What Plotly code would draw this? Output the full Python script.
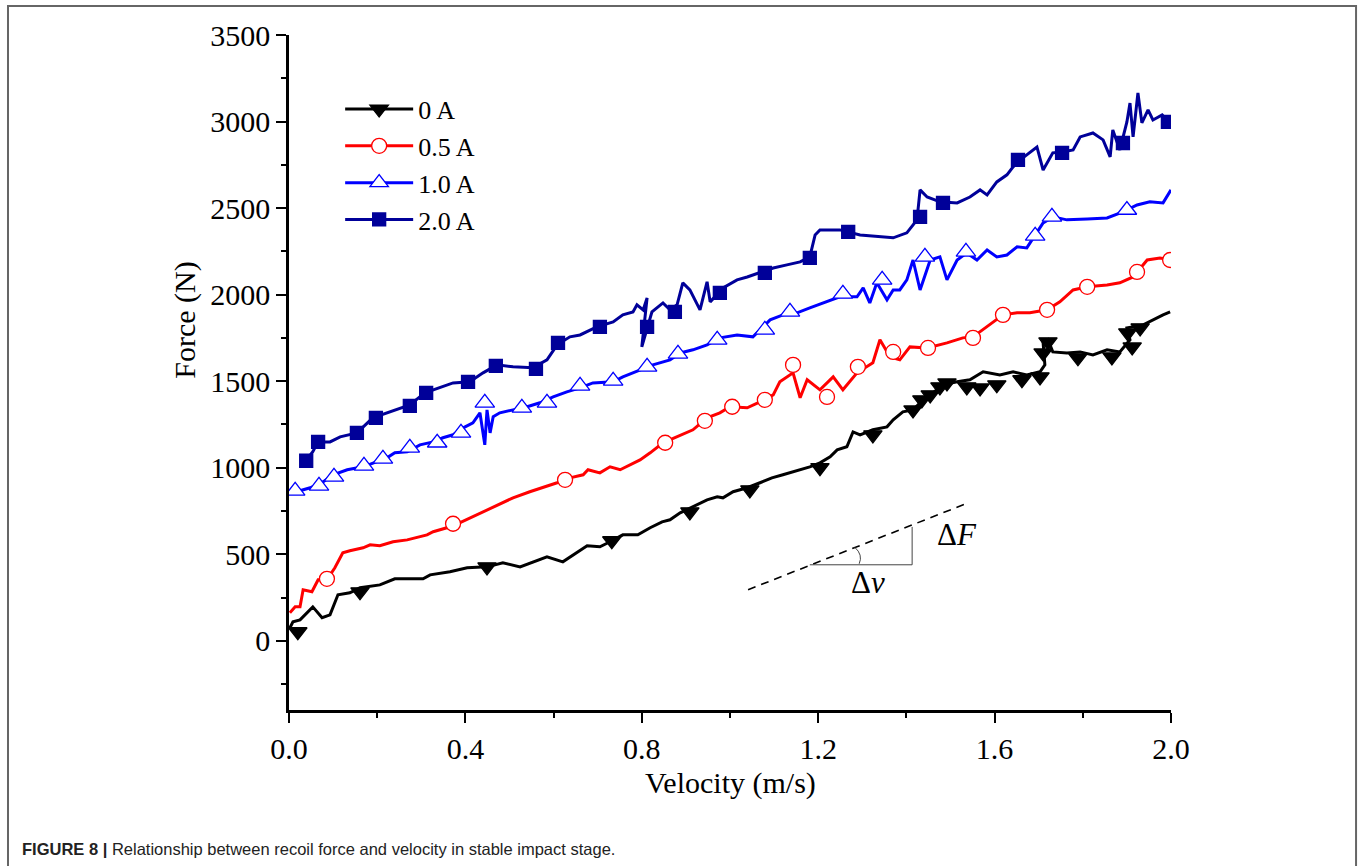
import plotly.graph_objects as go

# ---------------- data (velocity m/s, force N) ----------------
v_0A = [0.002, 0.009, 0.025, 0.054, 0.075, 0.093, 0.111, 0.138, 0.161, 0.206, 0.240, 0.304, 0.320, 0.365,
        0.404, 0.449, 0.485, 0.524, 0.585, 0.621, 0.676, 0.705, 0.728, 0.757, 0.791, 0.819, 0.846, 0.864,
        0.887, 0.916, 0.948, 0.971, 0.984, 1.007, 1.039, 1.068, 1.095, 1.120, 1.152, 1.181, 1.204, 1.227,
        1.243, 1.265, 1.279, 1.295, 1.324, 1.356, 1.370, 1.392, 1.415, 1.438, 1.460, 1.483, 1.515, 1.544,
        1.574, 1.612, 1.642, 1.673, 1.703, 1.714, 1.710, 1.721, 1.732, 1.764, 1.794, 1.823, 1.855, 1.884,
        1.907, 1.900, 1.937, 1.959, 1.982, 1.998]
F_0A = [75, 110, 121, 196, 133, 150, 266, 277, 306, 323, 358, 358, 381, 399,
        422, 427, 451, 427, 485, 456, 549, 543, 572, 612, 612, 653, 687, 699,
        739, 774, 814, 832, 826, 861, 884, 913, 941, 959, 982, 1005, 1028, 1063,
        1103, 1121, 1207, 1190, 1219, 1236, 1277, 1323, 1334, 1392, 1432, 1479, 1496, 1508,
        1554, 1536, 1554, 1536, 1554, 1594, 1721, 1739, 1669, 1663, 1669, 1652, 1681, 1669,
        1739, 1808, 1825, 1854, 1883, 1900]
mv_0A = [0.020, 0.161, 0.449, 0.732, 0.909, 1.045, 1.204, 1.324, 1.415, 1.435, 1.454, 1.476, 1.492,
         1.537, 1.567, 1.605, 1.662, 1.703, 1.721, 1.710, 1.789, 1.866, 1.902, 1.912, 1.930]
mF_0A = [52, 283, 427, 578, 745, 872, 1000, 1190, 1334, 1392, 1421, 1467, 1490,
         1467, 1461, 1479, 1508, 1525, 1727, 1663, 1635, 1640, 1779, 1698, 1808]

v_05A = [0.002, 0.014, 0.025, 0.032, 0.052, 0.066, 0.086, 0.104, 0.122, 0.138, 0.168, 0.184, 0.206,
         0.236, 0.268, 0.297, 0.313, 0.327, 0.358, 0.388, 0.417, 0.440, 0.472, 0.508, 0.546, 0.576,
         0.608, 0.637, 0.667, 0.678, 0.705, 0.728, 0.751, 0.796, 0.819, 0.848, 0.880, 0.916, 0.948,
         0.977, 1.000, 1.039, 1.068, 1.098, 1.113, 1.143, 1.159, 1.175, 1.204, 1.234, 1.256, 1.288,
         1.324, 1.340, 1.363, 1.385, 1.408, 1.447, 1.492, 1.528, 1.551, 1.583, 1.619, 1.651, 1.680,
         1.719, 1.748, 1.778, 1.810, 1.855, 1.884, 1.914, 1.946, 1.975, 2.000]
F_05A = [162, 196, 196, 295, 283, 352, 352, 422, 508, 520, 537, 554, 549,
         572, 583, 601, 612, 630, 653, 682, 716, 745, 785, 826, 861, 884,
         913, 941, 959, 988, 970, 1005, 988, 1045, 1086, 1144, 1178, 1219, 1288,
         1317, 1352, 1346, 1380, 1421, 1496, 1548, 1404, 1508, 1450, 1525, 1450, 1548,
         1606, 1739, 1640, 1623, 1698, 1692, 1721, 1750, 1756, 1814, 1883, 1895, 1895,
         1912, 1958, 2027, 2045, 2056, 2068, 2102, 2200, 2212, 2200]
mv_05A = [0.086, 0.372, 0.626, 0.853, 0.943, 1.005, 1.079, 1.143, 1.220, 1.290, 1.370, 1.449,
          1.551, 1.619, 1.719, 1.810, 1.923, 1.998]
mF_05A = [358, 676, 930, 1144, 1271, 1352, 1392, 1594, 1409, 1583, 1669, 1692,
          1750, 1883, 1912, 2045, 2131, 2200]

v_10A = [0.002, 0.009, 0.048, 0.077, 0.100, 0.132, 0.168, 0.200, 0.222, 0.240, 0.268, 0.297, 0.327,
         0.349, 0.372, 0.395, 0.417, 0.433, 0.444, 0.449, 0.456, 0.463, 0.478, 0.508, 0.540, 0.569,
         0.599, 0.630, 0.660, 0.689, 0.735, 0.757, 0.796, 0.825, 0.864, 0.887, 0.916, 0.948, 0.977,
         1.016, 1.052, 1.075, 1.091, 1.120, 1.152, 1.181, 1.220, 1.249, 1.288, 1.302, 1.317, 1.333,
         1.356, 1.370, 1.385, 1.401, 1.415, 1.431, 1.454, 1.476, 1.492, 1.515, 1.537, 1.560, 1.583,
         1.605, 1.628, 1.651, 1.673, 1.696, 1.710, 1.732, 1.764, 1.810, 1.855, 1.891, 1.923, 1.952,
         1.982, 2.000]
F_10A = [872, 855, 884, 918, 959, 988, 1005, 1034, 1057, 1086, 1092, 1132, 1149,
         1173, 1190, 1230, 1259, 1317, 1132, 1334, 1201, 1294, 1317, 1334, 1352, 1375,
         1409, 1438, 1461, 1490, 1496, 1525, 1565, 1594, 1623, 1663, 1681, 1710, 1750,
         1767, 1756, 1814, 1854, 1883, 1895, 1923, 1958, 1987, 1987, 2039, 1952, 2068,
         1970, 2027, 2027, 2085, 2200, 2027, 2200, 2218, 2085, 2200, 2241, 2200, 2258,
         2218, 2229, 2276, 2270, 2357, 2414, 2449, 2432, 2437, 2443, 2478, 2518, 2536,
         2530, 2605]
mv_10A = [0.014, 0.068, 0.102, 0.170, 0.213, 0.274, 0.336, 0.390, 0.444, 0.528, 0.585, 0.660, 0.735,
          0.812, 0.882, 0.971, 1.079, 1.136, 1.256, 1.345, 1.442, 1.535, 1.692, 1.730, 1.900]
mF_10A = [866, 895, 947, 1011, 1051, 1115, 1144, 1201, 1375, 1346, 1375, 1473, 1502,
          1583, 1658, 1739, 1796, 1900, 2004, 2085, 2218, 2247, 2339, 2449, 2489]

v_20A = [0.036, 0.054, 0.066, 0.093, 0.116, 0.154, 0.190, 0.229, 0.274, 0.308, 0.342, 0.372, 0.410,
         0.440, 0.472, 0.508, 0.553, 0.585, 0.608, 0.637, 0.660, 0.698, 0.735, 0.757, 0.780, 0.789,
         0.803, 0.812, 0.800, 0.823, 0.848, 0.864, 0.880, 0.893, 0.909, 0.932, 0.948, 0.955, 0.984,
         1.016, 1.039, 1.068, 1.098, 1.129, 1.159, 1.181, 1.193, 1.204, 1.249, 1.295, 1.340, 1.370,
         1.401, 1.424, 1.431, 1.447, 1.476, 1.515, 1.544, 1.567, 1.583, 1.605, 1.628, 1.642, 1.664,
         1.696, 1.710, 1.732, 1.753, 1.778, 1.794, 1.823, 1.846, 1.862, 1.868, 1.884, 1.900, 1.907,
         1.914, 1.925, 1.934, 1.948, 1.959, 1.980, 1.991, 1.998]
F_20A = [1034, 1092, 1149, 1149, 1178, 1201, 1288, 1323, 1363, 1432, 1461, 1490, 1496,
         1548, 1594, 1583, 1577, 1623, 1710, 1756, 1767, 1814, 1842, 1883, 1900, 1941,
         1912, 1981, 1698, 1900, 1952, 1912, 1941, 2068, 2027, 1912, 2074, 1958, 2039,
         2085, 2102, 2126, 2154, 2172, 2189, 2218, 2345, 2374, 2374, 2345, 2333, 2328,
         2357, 2432, 2605, 2564, 2536, 2530, 2564, 2605, 2576, 2651, 2692, 2738, 2790,
         2853, 2720, 2819, 2824, 2836, 2911, 2934, 2894, 2796, 2951, 2836, 2998, 3107,
         2911, 3165, 2992, 3067, 3009, 3038, 3009, 2969]
mv_20A = [0.039, 0.066, 0.154, 0.197, 0.274, 0.311, 0.406, 0.469, 0.560, 0.610, 0.705, 0.812, 0.875,
          0.977, 1.079, 1.181, 1.268, 1.431, 1.483, 1.653, 1.753, 1.891, 1.993]
mF_20A = [1040, 1149, 1201, 1288, 1357, 1432, 1496, 1588, 1571, 1721, 1814, 1814, 1900,
          2010, 2126, 2212, 2362, 2449, 2530, 2778, 2819, 2876, 2998]

# slope sketch (ΔF / Δv)
slope_v = [1.041, 1.540]
slope_F = [295, 797]
tri_v = [1.181, 1.413]
tri_F = [439, 658]

series = [
    ("0 A", v_0A, F_0A, mv_0A, mF_0A, "#000000", "triangle-down", 16, "#000000"),
    ("0.5 A", v_05A, F_05A, mv_05A, mF_05A, "#FF0000", "circle", 15, "#FFFFFF"),
    ("1.0 A", v_10A, F_10A, mv_10A, mF_10A, "#0000FF", "triangle-up", 17, "#FFFFFF"),
    ("2.0 A", v_20A, F_20A, mv_20A, mF_20A, "#000099", "square", 13, "#000099"),
]

SERIF = "Liberation Serif, Times New Roman, serif"
LW = 3.0

fig = go.Figure()
for name, xv, yv, mx, my, col, sym, size, fill in series:
    fig.add_trace(go.Scatter(x=xv, y=yv, mode="lines", line=dict(color=col, width=LW),
                             showlegend=False, hoverinfo="skip"))
    fig.add_trace(go.Scatter(x=mx, y=my, mode="markers", showlegend=False,
                             marker=dict(symbol=sym, size=size, color=fill,
                                         line=dict(color=col, width=1.3))))
for i, (name, xv, yv, mx, my, col, sym, size, fill) in enumerate(series):
    fig.add_trace(go.Scatter(x=[None], y=[None], mode="lines+markers", name=name,
                             legendgroup=f"g{i}",
                             line=dict(color=col, width=LW),
                             marker=dict(symbol=sym, size=size, color=fill,
                                         line=dict(color=col, width=1.3))))

# slope annotation
fig.add_trace(go.Scatter(x=slope_v, y=slope_F, mode="lines", showlegend=False,
                         line=dict(color="black", width=1.6, dash="8px,6px"), hoverinfo="skip"))
fig.add_shape(type="line", xref="x", yref="y", x0=tri_v[0], y0=tri_F[0], x1=tri_v[1], y1=tri_F[0],
              line=dict(color="#444", width=1))
fig.add_shape(type="line", xref="x", yref="y", x0=tri_v[1], y0=tri_F[0], x1=tri_v[1], y1=tri_F[1],
              line=dict(color="#444", width=1))
fig.add_shape(type="path", xref="x", yref="y", path="M 1.283,540 Q 1.302,497 1.293,445",
              line=dict(color="#444", width=1))
fig.add_annotation(x=1.514, y=612, xref="x", yref="y", text="Δ<i>F</i>", showarrow=False,
                   font=dict(family=SERIF, size=31, color="black"))
fig.add_annotation(x=1.313, y=335, xref="x", yref="y", text="Δ<i>v</i>", showarrow=False,
                   font=dict(family=SERIF, size=31, color="black"))

# axis titles
fig.add_annotation(x=-0.118, y=0.578, xref="paper", yref="paper", xanchor="center", yanchor="middle",
                   text="Force (N)", textangle=-90,
                   showarrow=False, font=dict(family=SERIF, size=30, color="black"))
fig.add_annotation(x=0.5, y=-0.108, xref="paper", yref="paper", xanchor="center", yanchor="middle",
                   text="Velocity (m/s)",
                   showarrow=False, font=dict(family=SERIF, size=30, color="black"))

# caption
fig.add_annotation(x=-0.305, y=-0.206, xref="paper", yref="paper", xanchor="left", yanchor="middle",
                   text="<b>FIGURE 8 |</b> Relationship between recoil force and velocity in stable impact stage.",
                   showarrow=False, font=dict(family="Liberation Sans, Arial, sans-serif", size=16.5, color="#222"))

# outer frame
fig.add_shape(type="rect", xref="paper", yref="paper", x0=-0.3186, x1=1.2098, y0=-0.3, y1=1.043,
              line=dict(color="#666", width=2), layer="below")

axis_common = dict(showgrid=False, zeroline=False, showline=True, linecolor="black", linewidth=2.5,
                   ticks="outside", ticklen=10, tickwidth=2.2, tickcolor="black",
                   tickfont=dict(family=SERIF, size=30, color="black"), mirror=False)
fig.update_xaxes(range=[0, 2.0], dtick=0.4, tick0=0, tickformat=".1f",
                 minor=dict(dtick=0.2, ticks="outside", ticklen=5, tickwidth=2, tickcolor="black", showgrid=False),
                 **axis_common)
fig.update_yaxes(range=[-400, 3500], dtick=500, tick0=0,
                 minor=dict(dtick=250, ticks="outside", ticklen=5, tickwidth=2, tickcolor="black", showgrid=False),
                 **axis_common)

fig.update_layout(
    width=1360, height=866,
    margin=dict(l=289, r=189, t=35, b=156),
    paper_bgcolor="white", plot_bgcolor="white",
    showlegend=True,
    legend=dict(x=0.058, y=0.925, xanchor="left", yanchor="top", bgcolor="rgba(0,0,0,0)",
                font=dict(family=SERIF, size=26, color="black"), itemwidth=68,
                tracegroupgap=0, traceorder="normal"),
)

fig.write_html("out.html")
